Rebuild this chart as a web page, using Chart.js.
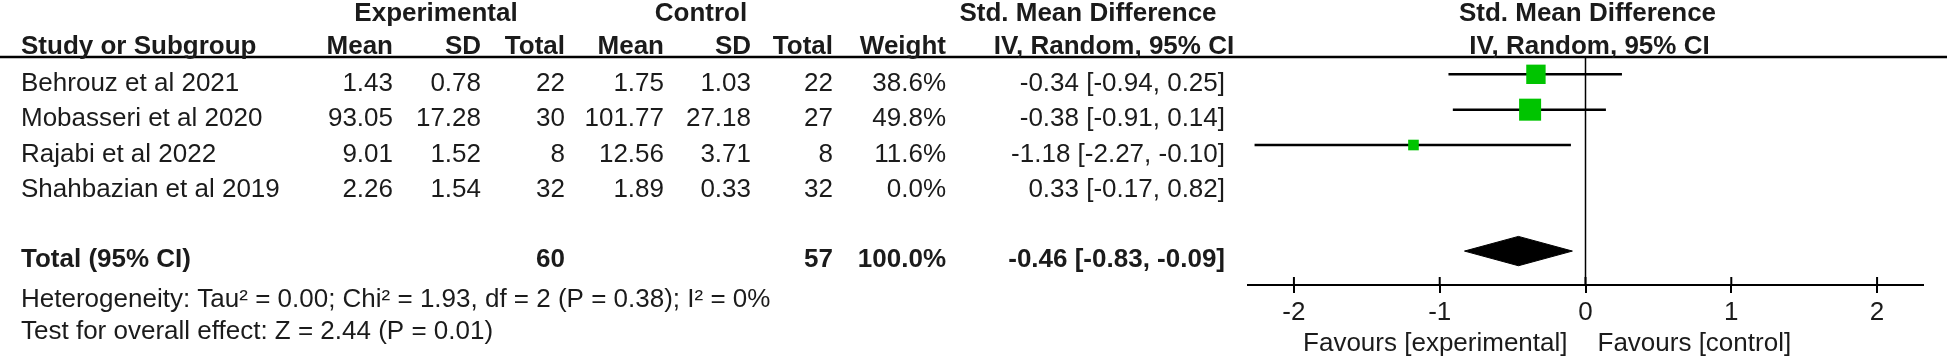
<!DOCTYPE html>
<html>
<head>
<meta charset="utf-8">
<script src="https://cdn.jsdelivr.net/npm/chart.js@4.4.1/dist/chart.umd.min.js"></script>
<style>
  body { margin: 0; background: #fff; }
  canvas { display: block; }
</style>
</head>
<body>
<canvas id="forest-plot" width="1949" height="360"></canvas>
<script>
// Study data
const studies = ["Behrouz et al 2021", "Mobasseri et al 2020", "Rajabi et al 2022", "Shahbazian et al 2019"];
const expMean = [1.43, 93.05, 9.01, 2.26];
const expSD = [0.78, 17.28, 1.52, 1.54];
const expTotal = [22, 30, 8, 32];
const ctrlMean = [1.75, 101.77, 12.56, 1.89];
const ctrlSD = [1.03, 27.18, 3.71, 0.33];
const ctrlTotal = [22, 27, 8, 32];
const weights = [38.6, 49.8, 11.6, 0.0];
const smd = [-0.34, -0.38, -1.18, 0.33];
const ciLow = [-0.94, -0.91, -2.27, -0.17];
const ciHigh = [0.25, 0.14, -0.10, 0.82];

// Pooled result
const pooled = { expTotal: 60, ctrlTotal: 57, weight: 100.0, smd: -0.46, low: -0.83, high: -0.09 };
const heterogeneity = "Heterogeneity: Tau\u00b2 = 0.00; Chi\u00b2 = 1.93, df = 2 (P = 0.38); I\u00b2 = 0%";
const overallEffect = "Test for overall effect: Z = 2.44 (P = 0.01)";

const xTicks = [-2, -1, 0, 1, 2];

// rows on the y scale: studies 1..4, total on row 6
const studyRows = studies.map((s, i) => i + 1);
const totalRow = 6;
const yMin = 0.51, yMax = 6.96;

const FONT = '"Liberation Sans", Arial, sans-serif';
const TEXT = "#1b1b1b";

// right edges of the table columns
const cols = {
  name: 21, expMean: 393, expSD: 481, expTotal: 565,
  ctrlMean: 664, ctrlSD: 751, ctrlTotal: 833, weight: 946, ci: 1225
};

const fmtCI = (m, l, h) => `${m.toFixed(2)} [${l.toFixed(2)}, ${h.toFixed(2)}]`;

// build datasets
const plotted = studies.map((s, i) => i).filter(i => weights[i] > 0);

const ciLines = plotted.map(i => ({
  data: [{ x: ciLow[i], y: studyRows[i] }, { x: ciHigh[i], y: studyRows[i] }],
  showLine: true,
  borderColor: "#000",
  borderWidth: 2.5,
  pointRadius: 0,
  order: 3
}));

const squares = {
  data: plotted.map(i => ({ x: smd[i], y: studyRows[i] })),
  pointStyle: "rect",
  pointRadius: plotted.map(i => 3.12 * Math.sqrt(weights[i]) / Math.SQRT2),
  backgroundColor: "#00c400",
  borderWidth: 0,
  order: 0
};

const zeroLine = {
  data: [{ x: 0, y: yMin }, { x: 0, y: yMax }],
  showLine: true,
  borderColor: "#000",
  borderWidth: 1.5,
  pointRadius: 0,
  order: 2
};

const halfH = 0.415;
const diamond = {
  data: [
    { x: pooled.low, y: totalRow },
    { x: pooled.smd, y: totalRow - halfH },
    { x: pooled.high, y: totalRow },
    { x: pooled.smd, y: totalRow + halfH },
    { x: pooled.low, y: totalRow }
  ],
  showLine: true,
  fill: "shape",
  backgroundColor: "#000",
  borderColor: "#000",
  borderWidth: 1,
  pointRadius: 0,
  order: 1
};

// draws the table, header line, upper tick halves and favours labels
const tablePlugin = {
  id: "tableText",
  afterDraw(chart) {
    const ctx = chart.ctx;
    const xs = chart.scales.x;
    const ys = chart.scales.y;
    const area = chart.chartArea;
    ctx.save();

    // header rule
    ctx.strokeStyle = "#000";
    ctx.lineWidth = 2.5;
    ctx.beginPath();
    ctx.moveTo(0, area.top);
    ctx.lineTo(1947, area.top);
    ctx.stroke();

    // tick marks above the axis
    ctx.lineWidth = 2;
    xTicks.forEach(v => {
      const px = xs.getPixelForValue(v);
      ctx.beginPath();
      ctx.moveTo(px, area.bottom - 8);
      ctx.lineTo(px, area.bottom);
      ctx.stroke();
    });

    ctx.fillStyle = TEXT;
    ctx.textBaseline = "alphabetic";
    const put = (txt, x, y, align, bold) => {
      ctx.font = (bold ? "bold " : "") + "26px " + FONT;
      ctx.textAlign = align;
      ctx.fillText(txt, x, y);
    };

    // headers
    const zeroPx = xs.getPixelForValue(0);
    put("Experimental", 436, 21, "center", true);
    put("Control", 701, 21, "center", true);
    put("Std. Mean Difference", 1088, 21, "center", true);
    put("Std. Mean Difference", zeroPx + 2, 21, "center", true);
    put("Study or Subgroup", cols.name, 54, "left", true);
    put("Mean", cols.expMean, 54, "right", true);
    put("SD", cols.expSD, 54, "right", true);
    put("Total", cols.expTotal, 54, "right", true);
    put("Mean", cols.ctrlMean, 54, "right", true);
    put("SD", cols.ctrlSD, 54, "right", true);
    put("Total", cols.ctrlTotal, 54, "right", true);
    put("Weight", cols.weight, 54, "right", true);
    put("IV, Random, 95% CI", 1114, 54, "center", true);
    put("IV, Random, 95% CI", zeroPx + 4, 54, "center", true);

    // study rows
    studies.forEach((s, i) => {
      const by = ys.getPixelForValue(studyRows[i]) + 16.5;
      put(s, cols.name, by, "left", false);
      put(expMean[i].toFixed(2), cols.expMean, by, "right", false);
      put(expSD[i].toFixed(2), cols.expSD, by, "right", false);
      put(String(expTotal[i]), cols.expTotal, by, "right", false);
      put(ctrlMean[i].toFixed(2), cols.ctrlMean, by, "right", false);
      put(ctrlSD[i].toFixed(2), cols.ctrlSD, by, "right", false);
      put(String(ctrlTotal[i]), cols.ctrlTotal, by, "right", false);
      put(weights[i].toFixed(1) + "%", cols.weight, by, "right", false);
      put(fmtCI(smd[i], ciLow[i], ciHigh[i]), cols.ci, by, "right", false);
    });

    // total row
    const ty = ys.getPixelForValue(totalRow) + 16;
    put("Total (95% CI)", cols.name, ty, "left", true);
    put(String(pooled.expTotal), cols.expTotal, ty, "right", true);
    put(String(pooled.ctrlTotal), cols.ctrlTotal, ty, "right", true);
    put(pooled.weight.toFixed(1) + "%", cols.weight, ty, "right", true);
    put(fmtCI(pooled.smd, pooled.low, pooled.high), cols.ci, ty, "right", true);

    put(heterogeneity, cols.name, 307, "left", false);
    put(overallEffect, cols.name, 339, "left", false);

    // favours labels
    put("Favours [experimental]", zeroPx - 18, 351, "right", false);
    put("Favours [control]", zeroPx + 12, 351, "left", false);

    ctx.restore();
  }
};

new Chart(document.getElementById("forest-plot"), {
  type: "scatter",
  data: { datasets: [...ciLines, squares, zeroLine, diamond] },
  options: {
    responsive: false,
    animation: false,
    layout: { padding: { left: 1248, right: 26, top: 57, bottom: 0 } },
    plugins: { legend: { display: false }, tooltip: { enabled: false } },
    scales: {
      x: {
        type: "linear",
        min: -2.315,
        max: 2.315,
        afterBuildTicks: s => { s.ticks = xTicks.map(v => ({ value: v })); },
        afterFit: s => { s.height = 75; },
        grid: { drawOnChartArea: false, drawTicks: true, tickLength: 8, color: "#000", lineWidth: 2 },
        border: { display: true, color: "#000", width: 2 },
        ticks: { color: TEXT, padding: 4, font: { family: FONT, size: 26 } }
      },
      y: {
        type: "linear",
        display: false,
        reverse: true,
        min: yMin,
        max: yMax
      }
    }
  },
  plugins: [tablePlugin]
});
</script>
</body>
</html>
